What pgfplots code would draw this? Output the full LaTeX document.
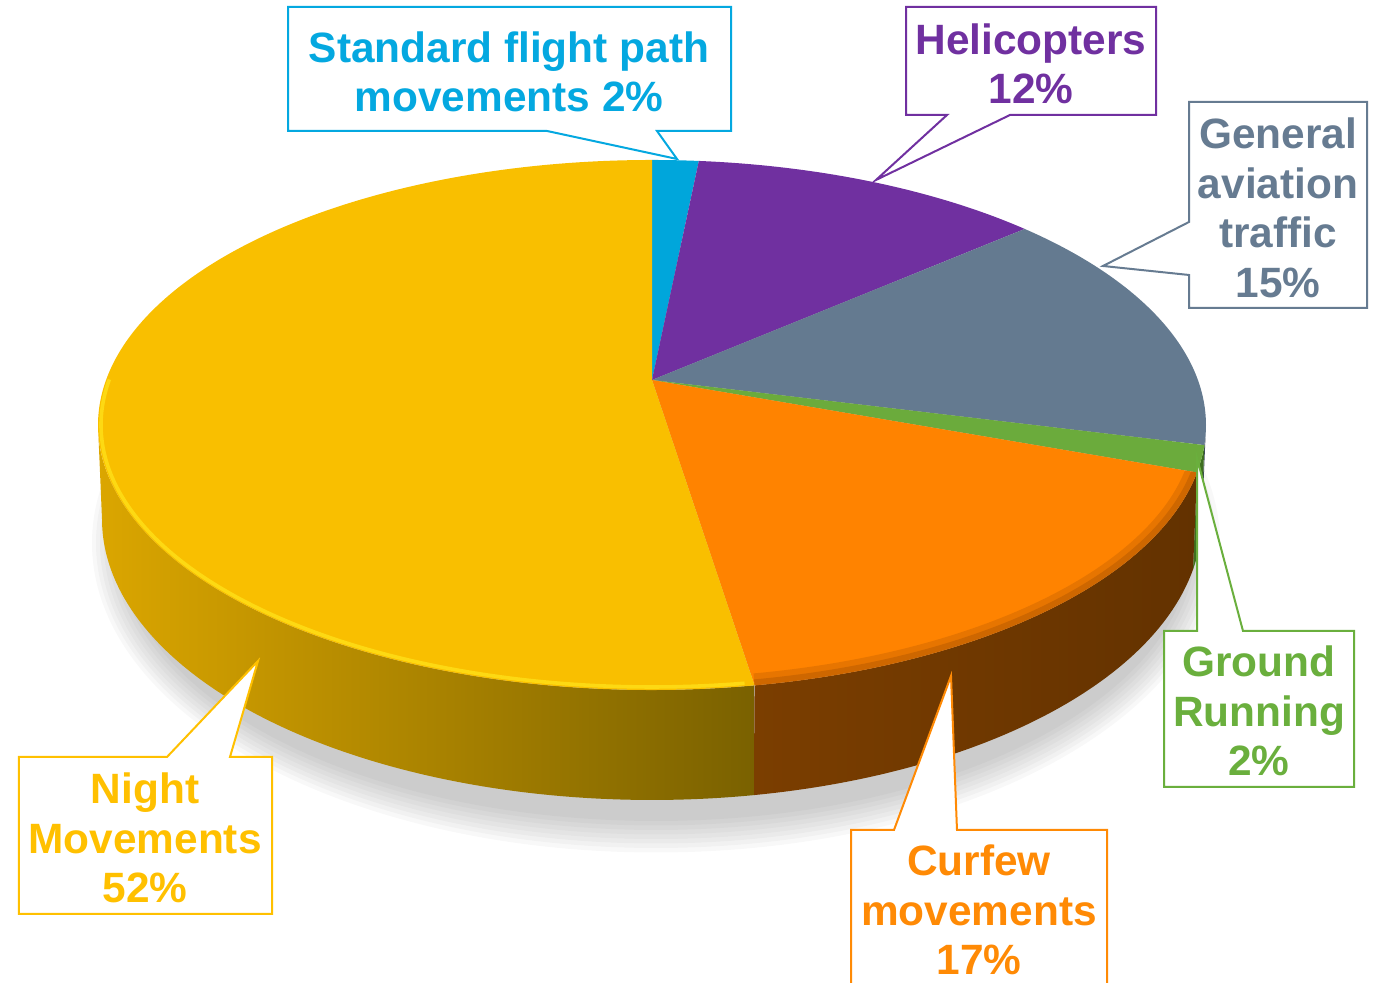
\documentclass[border=0pt]{standalone}
\usepackage{fontspec}
\setmainfont{Liberation Sans}
\usepackage{pgfplots}
\usepackage{pgfplotstable}
\pgfplotsset{compat=1.18}

\definecolor{cBlue}{HTML}{00A6DB}
\definecolor{cPurple}{HTML}{7030A0}
\definecolor{cGrey}{HTML}{647A90}
\definecolor{cGreen}{HTML}{6BAB3C}
\definecolor{cOrange}{HTML}{FF8300}
\definecolor{cYellow}{HTML}{F9BF00}
\definecolor{tBlue}{HTML}{04A8E0}
\definecolor{tPurple}{HTML}{7030A0}
\definecolor{tGrey}{HTML}{667B91}
\definecolor{tGreen}{HTML}{6AAF3D}
\definecolor{tOrange}{HTML}{FF8A05}
\definecolor{tYellow}{HTML}{FFC000}
\definecolor{ysL}{HTML}{DBA600}
\definecolor{ysM}{HTML}{BA9000}
\definecolor{ysR}{HTML}{7A6100}
\definecolor{osL}{HTML}{7B3E00}
\definecolor{osR}{HTML}{633200}
\definecolor{gsGreen}{HTML}{3E6E20}
\definecolor{gsGrey}{HTML}{3C4A5A}
\definecolor{rimY}{HTML}{FFE21A}
\definecolor{rimO}{HTML}{B05600}

% slice shares (percent), clockwise from 12 o'clock
\pgfplotstableread{
slice value
Standard 1.6
Helicopters 12.1
General 15.2
Ground 1.6
Curfew 17.0
Night 52.5
}\piedata

\newcommand\getval[2]{\pgfplotstablegetelem{#1}{value}\of\piedata\let#2\pgfplotsretval}

% cumulative percent -> angle on the projected (perspective) top ellipse
\newcommand\phiof[2]{%
 \pgfmathsetmacro\th{90-3.6*(#1)}%
 \pgfmathsetmacro\den{1+0.17*sin(\th)}%
 \pgfmathsetmacro\pxx{546*cos(\th)/\den/554}%
 \pgfmathsetmacro\pyy{(45+257.4*sin(\th)/\den)/265}%
 \pgfmathsetmacro\ph{atan2(\pyy,\pxx)}%
 \pgfmathsetmacro#2{\ph+360*round((\th-\ph)/360)}%
}

\newcommand\topslice[3]{%
  \pgfmathsetmacro\xs{652+554*cos(#1)}%
  \pgfmathsetmacro\ys{558+265*sin(#1)}%
  \fill[#3] (axis cs:652,603) -- (axis cs:\xs,\ys) arc[start angle=#1, end angle=#2, x radius=138.5pt, y radius=66.25pt] -- cycle;%
}

\newcommand\sideslice[3]{%
  \pgfmathsetmacro\sa{min(#1,0)}%
  \pgfmathsetmacro\sb{max(#2,-180)}%
  \pgfmathtruncatemacro\ok{\sa>\sb}%
  \ifnum\ok=1
    \pgfmathsetmacro\xs{652+554*cos(\sa)}%
    \pgfmathsetmacro\ys{558+265*sin(\sa)}%
    \pgfmathsetmacro\xb{652+550*cos(\sb)}%
    \pgfmathsetmacro\yb{464+281*sin(\sb)}%
    \path[#3] (axis cs:\xs,\ys) arc[start angle=\sa, end angle=\sb, x radius=138.5pt, y radius=66.25pt] -- (axis cs:\xb,\yb) arc[start angle=\sb, end angle=\sa, x radius=137.5pt, y radius=70.25pt] -- cycle;%
  \fi
}

\begin{document}
\begin{tikzpicture}
\getval{0}\vA \getval{1}\vB \getval{2}\vC \getval{3}\vD \getval{4}\vE \getval{5}\vF
\pgfmathsetmacro\cA{\vA}
\pgfmathsetmacro\cB{\cA+\vB}
\pgfmathsetmacro\cC{\cB+\vC}
\pgfmathsetmacro\cD{\cC+\vD}
\pgfmathsetmacro\cE{\cD+\vE}
\pgfmathsetmacro\cF{\cE+\vF}
\phiof{0}\pZ
\phiof{\cA}\pA
\phiof{\cB}\pB
\phiof{\cC}\pC
\phiof{\cD}\pD
\phiof{\cE}\pE
\phiof{\cF}\pF
\begin{axis}[x=0.25pt, y=0.25pt, xmin=0, xmax=1375, ymin=0, ymax=983,
  enlargelimits=false, hide axis, scale only axis, clip=true]
\coordinate (LL) at (axis cs:0,0);
\coordinate (UR) at (axis cs:1375,983);
\pgfplotsextra{%
  % soft shadow
  \foreach \i in {7,6,...,0}{%
    \pgfmathsetmacro\rx{(536+4*\i)*0.25}%
    \pgfmathsetmacro\ry{(278+4.5*\i)*0.25}%
    \fill[black, opacity=0.028] (axis cs:656,440) ellipse[x radius=\rx pt, y radius=\ry pt];
  }%
  % sides
  \sideslice{\pB}{\pC}{fill=gsGrey}
  \sideslice{\pC}{\pD}{fill=gsGreen}
  \sideslice{\pD}{\pE}{left color=osL, right color=osR}
  \sideslice{\pE}{\pF}{left color=ysL, middle color=ysM, right color=ysR}
  % top faces
  \topslice{\pZ}{\pA}{cBlue}
  \topslice{\pA}{\pB}{cPurple}
  \topslice{\pB}{\pC}{cGrey}
  \topslice{\pC}{\pD}{cGreen}
  \topslice{\pD}{\pE}{cOrange}
  \topslice{\pE}{\pF}{cYellow}
  % rim effects
  \begin{scope}
    \pgfmathsetmacro\xs{652+554*cos(\pD)}%
    \pgfmathsetmacro\ys{558+265*sin(\pD)}%
    \clip (axis cs:652,603) -- (axis cs:\xs,\ys) arc[start angle=\pD, end angle=\pE, x radius=138.5pt, y radius=66.25pt] -- cycle;
    \pgfmathsetmacro\xs{652+554*cos(\pD+10)}%
    \pgfmathsetmacro\ys{558+265*sin(\pD+10)}%
    \draw[rimO, opacity=0.3, line width=6pt] (axis cs:\xs,\ys) arc[start angle=\pD+10, end angle=\pE, x radius=138.5pt, y radius=66.25pt];
    \draw[rimO, opacity=0.45, line width=3pt] (axis cs:\xs,\ys) arc[start angle=\pD+10, end angle=\pE, x radius=138.5pt, y radius=66.25pt];
  \end{scope}
  \pgfmathsetmacro\xs{652+551*cos(\pE-1)}%
  \pgfmathsetmacro\ys{558+262*sin(\pE-1)}%
  \draw[rimY, line width=0.9pt, opacity=0.75] (axis cs:\xs,\ys) arc[start angle=\pE-1, end angle=-190, x radius=137.75pt, y radius=65.5pt];
}
% callout boxes
\filldraw[fill=white, draw=tBlue, line width=0.5pt] (axis cs:288,976) -- (axis cs:731,976) -- (axis cs:731,852) -- (axis cs:657,852) -- (axis cs:677,824) -- (axis cs:547,852) -- (axis cs:288,852) -- cycle;
\filldraw[fill=white, draw=tPurple, line width=0.5pt] (axis cs:906,976) -- (axis cs:1156,976) -- (axis cs:1156,868) -- (axis cs:1010,868) -- (axis cs:876,803) -- (axis cs:947,868) -- (axis cs:906,868) -- cycle;
\filldraw[fill=white, draw=tGrey, line width=0.5pt] (axis cs:1189,881) -- (axis cs:1367,881) -- (axis cs:1367,675) -- (axis cs:1189,675) -- (axis cs:1189,708) -- (axis cs:1103,717) -- (axis cs:1189,761) -- cycle;
\filldraw[fill=white, draw=tGreen, line width=0.5pt] (axis cs:1164,352) -- (axis cs:1197,352) -- (axis cs:1197,525) -- (axis cs:1243,352) -- (axis cs:1354,352) -- (axis cs:1354,196) -- (axis cs:1164,196) -- cycle;
\filldraw[fill=white, draw=tOrange, line width=0.5pt] (axis cs:851,-10) -- (axis cs:851,153) -- (axis cs:894,153) -- (axis cs:951,307) -- (axis cs:957,153) -- (axis cs:1107,153) -- (axis cs:1107,-10);
\filldraw[fill=white, draw=tYellow, line width=0.5pt] (axis cs:19,226) -- (axis cs:167,226) -- (axis cs:258,322) -- (axis cs:230,226) -- (axis cs:272,226) -- (axis cs:272,69) -- (axis cs:19,69) -- cycle;
% labels
\tikzset{lbl/.style={align=center, inner sep=0pt, font=\fontsize{10.6}{12.4}\selectfont\bfseries}}
\node[lbl, text=tBlue] at (axis cs:509,911) {Standard flight path\\movements 2\%};
\node[lbl, text=tPurple] at (axis cs:1031,919) {Helicopters\\12\%};
\node[lbl, text=tGrey] at (axis cs:1278,775) {General\\aviation\\traffic\\15\%};
\node[lbl, text=tGreen] at (axis cs:1259,272) {Ground\\Running\\2\%};
\node[lbl, text=tOrange] at (axis cs:979,73) {Curfew\\movements\\17\%};
\node[lbl, text=tYellow] at (axis cs:145,145) {Night\\Movements\\52\%};
\end{axis}
\pgfresetboundingbox
\useasboundingbox (LL) rectangle (UR);
\end{tikzpicture}
\end{document}
